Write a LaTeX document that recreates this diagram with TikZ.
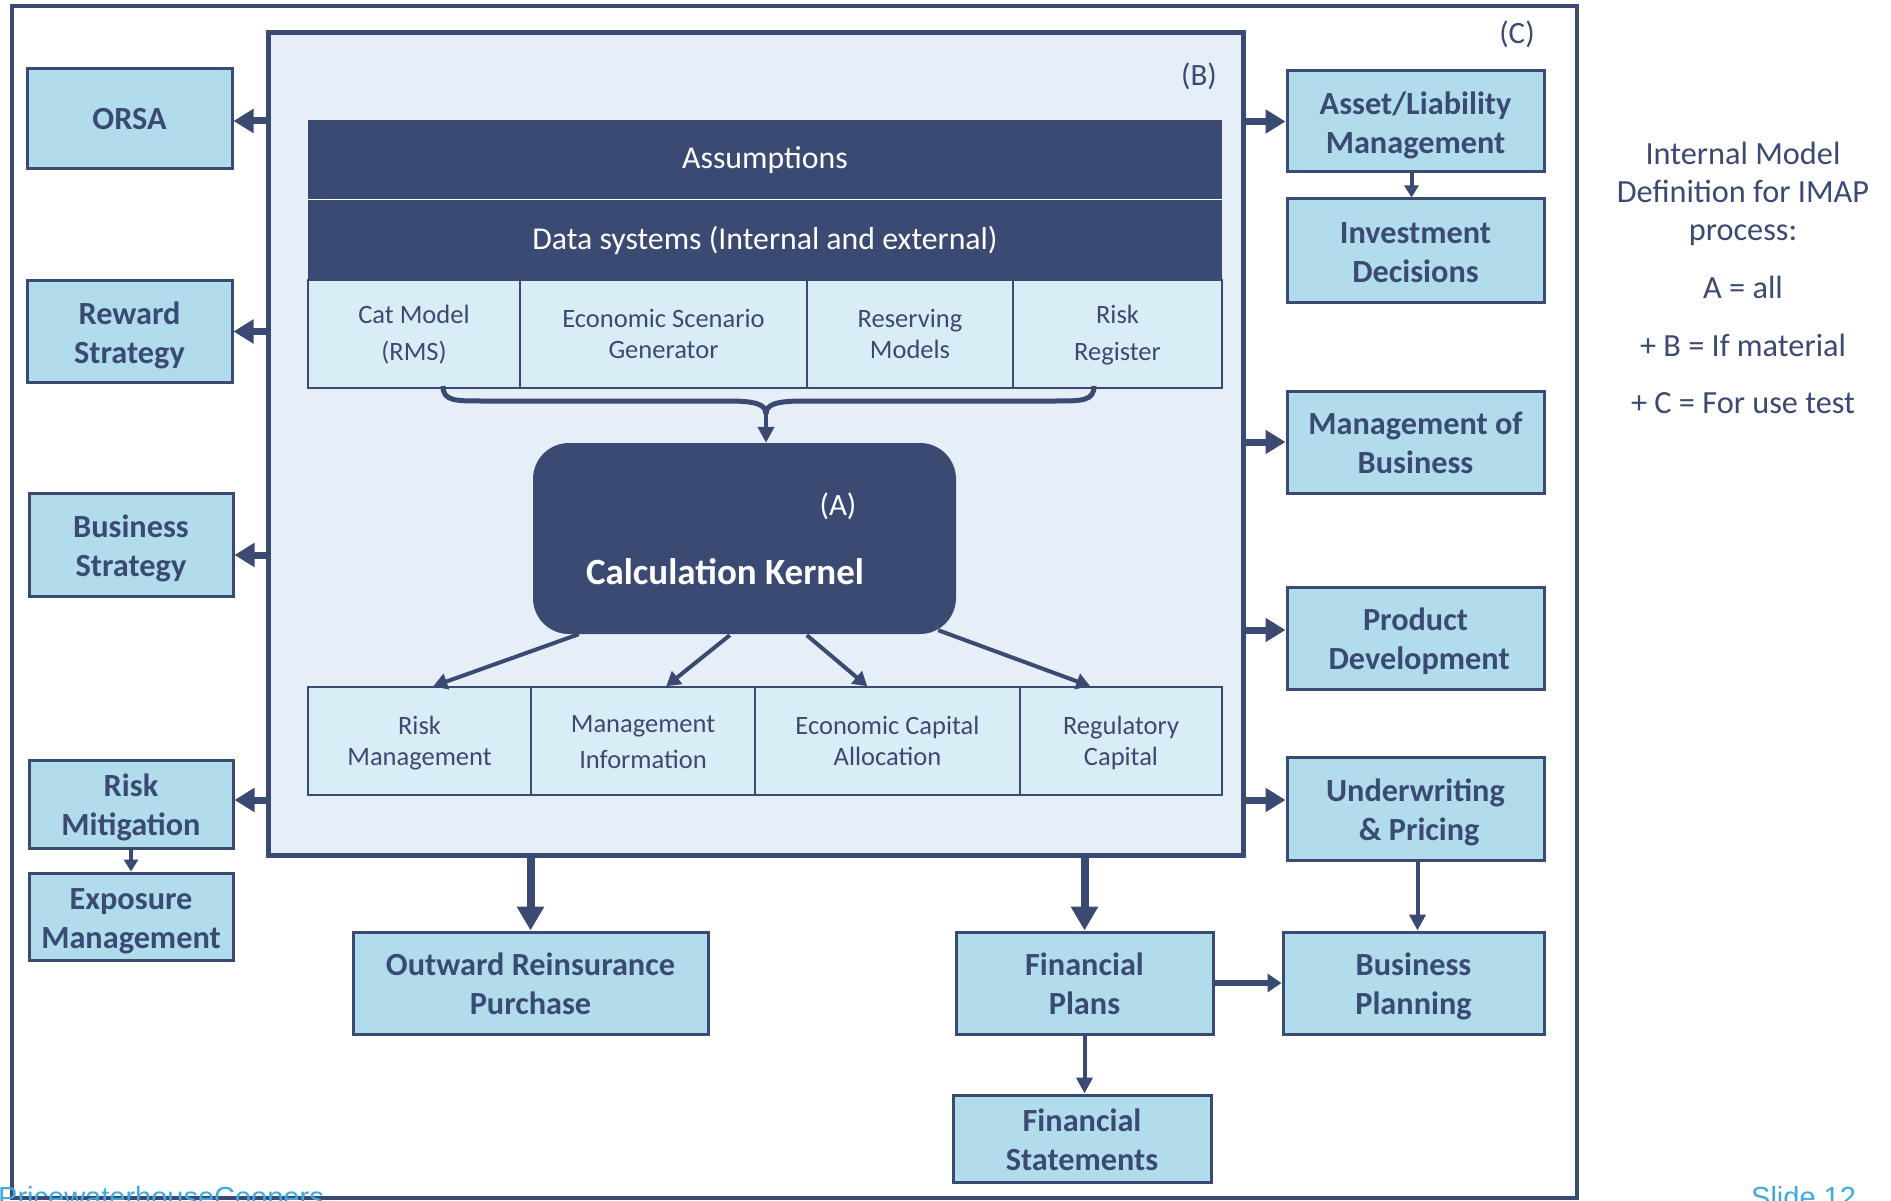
\documentclass[tikz,border=0pt]{standalone}
\usepackage{fontspec}
\setmainfont{Carlito}
\newfontfamily\footfont{Liberation Sans}
\usetikzlibrary{arrows.meta,calc}
\definecolor{navy}{HTML}{3B4A72}
\definecolor{boxblue}{HTML}{B1DCEC}
\definecolor{cellblue}{HTML}{D8EDF6}
\definecolor{innerfill}{HTML}{E6EEF8}
\definecolor{footblue}{HTML}{3FAADF}
% box label: strut-spaced lines, set slightly low in the box
\newcommand\btxt[2][4.5pt]{\raisebox{-#1}[\height][\depth]{\begin{tabular}{@{}c@{}}#2\end{tabular}}}
\begin{document}
\begin{tikzpicture}[x=1pt,y=-1pt,
  sidebox/.style={draw=navy, line width=3, fill=boxblue, text=navy, align=center,
    inner sep=0, font=\bfseries\fontsize{32.3}{38.6}\selectfont},
  cell/.style={draw=navy, line width=1.5, fill=cellblue, text=navy, align=center,
    inner sep=0, minimum height=108, font=\fontsize{26.5}{31}\selectfont},
  bar/.style={fill=navy, text=white, inner sep=0, minimum width=914, font=\fontsize{31.8}{38}\selectfont},
  label/.style={text=navy, inner sep=0, font=\fontsize{31}{37}\selectfont},
  legend/.style={text=navy, inner sep=0, align=center, font=\fontsize{32.3}{38}\selectfont},
  sidearrow/.style={navy, line width=7, -{Triangle[length=20pt,width=23pt]}},
  downarrow/.style={navy, line width=8, -{Triangle[length=24pt,width=26pt]}},
  karrow/.style={navy, line width=4, -{Triangle[length=14pt,width=16pt]}},
  thinarrow/.style={navy, line width=4, -{Triangle[length=12pt,width=14pt]}},
  midarrow/.style={navy, line width=4, -{Triangle[length=16pt,width=16pt]}},
  footer/.style={text=footblue, inner sep=0, anchor=base west, font=\footfont\fontsize{29}{29}\selectfont}
]
\useasboundingbox (0,0) rectangle (1891,1201);
\clip (0,0) rectangle (1891,1201);
\fill[white] (0,0) rectangle (1891,1201);

% outer frame (C)
\node[draw=navy, line width=4, minimum width=1565, minimum height=1192, inner sep=0] (C) at (794.5,602) {};
\node[label] (Clab) at (1517,34) {(C)};

% inner frame (B)
\node[draw=navy, line width=5, fill=innerfill, minimum width=975, minimum height=822, inner sep=0] (B) at (755.5,444) {};
\node[label] (Blab) at (1199,76) {(B)};

% input layers
\node[bar, minimum height=79] (assum) at (765,160) {Assumptions};
\node[bar, minimum height=80] (data) at (765,240) {Data systems (Internal and external)};
\draw[white, line width=1.5] (assum.south west) -- (assum.south east);

% input models
\node[cell, minimum width=212, font=\fontsize{26.5}{37}\selectfont] (cat) at (414,334) {\btxt[1pt]{Cat Model\\(RMS)}};
\node[cell, minimum width=287] (esg) at (663.5,334) {Economic Scenario\\Generator};
\node[cell, minimum width=206] (res) at (910,334) {Reserving\\Models};
\node[cell, minimum width=209, font=\fontsize{26.5}{37}\selectfont] (reg) at (1117.5,334) {\btxt[1pt]{Risk\\Register}};

% calculation kernel (A)
\node[fill=navy, rounded corners=36pt, minimum width=423, minimum height=191, inner sep=0] (kernel) at (744.5,538.5) {};
\node[text=white, inner sep=0, font=\fontsize{31}{37}\selectfont] (Alab) at (838,506) {(A)};
\node[text=white, inner sep=0, font=\bfseries\fontsize{37}{44}\selectfont] (kname) at (725,572) {Calculation Kernel};

% outputs
\node[cell, minimum width=223] (rm) at (419.5,741) {\btxt[2.5pt]{Risk\\Management}};
\node[cell, minimum width=224, font=\fontsize{26.5}{36}\selectfont] (mi) at (643,741) {\btxt[2.5pt]{Management\\Information}};
\node[cell, minimum width=265] (eca) at (887.5,741) {\btxt[2.5pt]{Economic Capital\\Allocation}};
\node[cell, minimum width=202] (rc) at (1121,741) {\btxt[2.5pt]{Regulatory\\Capital}};

% brace gathering the models
\coordinate (bl) at (443,386);
\coordinate (br) at (1094,386);
\coordinate (bm) at (766,414);
\draw[navy, line width=5] (bl) .. controls (443,401) and (455,401) .. (482,401) -- (728,401)
  .. controls (755,401) and (766,404) .. (bm);
\draw[navy, line width=5] (br) .. controls (1094,401) and (1082,401) .. (1055,401) -- (804,401)
  .. controls (777,401) and (766,404) .. (bm);
\draw[midarrow] ([yshift=2pt]bm) -- (bm |- kernel.north);

% kernel to outputs
\draw[karrow] ([xshift=46pt]kernel.south west) -- ([xshift=126pt]rm.north west);
\draw[karrow] ([xshift=197pt,yshift=-1pt]kernel.south west) -- ([xshift=136pt]mi.north west);
\draw[karrow] ([xshift=274pt,yshift=-1pt]kernel.south west) -- ([xshift=113pt]eca.north west);
\draw[karrow] ([xshift=-18pt,yshift=4pt]kernel.south east) -- ([xshift=71pt]rc.north west);

% uses on the left
\node[sidebox, minimum width=205, minimum height=100] (orsa) at (129.5,119) {\btxt[3pt]{ORSA}};
\node[sidebox, minimum width=205, minimum height=101] (reward) at (129.5,331.5) {\btxt{Reward\\Strategy}};
\node[sidebox, minimum width=204, minimum height=103] (bstrat) at (131,544.5) {\btxt{Business\\Strategy}};
\node[sidebox, minimum width=204, minimum height=88] (riskmit) at (131,804) {\btxt{Risk\\Mitigation}};
\node[sidebox, minimum width=204, minimum height=87] (expo) at (131,916.5) {\btxt{Exposure\\Management}};

% uses on the right
\node[sidebox, minimum width=257, minimum height=101] (alm) at (1415.5,121.5) {\btxt{Asset/Liability\\Management}};
\node[sidebox, minimum width=257, minimum height=103] (inv) at (1415.5,250.5) {\btxt{Investment\\Decisions}};
\node[sidebox, minimum width=257, minimum height=102] (mob) at (1415.5,442) {\btxt{Management of\\Business}};
\node[sidebox, minimum width=257, minimum height=102] (prod) at (1415.5,638) {\btxt{Product\\\ Development}};
\node[sidebox, minimum width=257, minimum height=103] (uw) at (1415.5,808.5) {\btxt{Underwriting\\\ \& Pricing}};
\node[sidebox, minimum width=261, minimum height=102] (bplan) at (1413.5,983) {\btxt{Business\\Planning}};

% uses below
\node[sidebox, minimum width=355, minimum height=102] (orp) at (530.5,983) {\btxt{Outward Reinsurance\\Purchase}};
\node[sidebox, minimum width=257, minimum height=102] (fplan) at (1084.5,983) {\btxt{Financial\\Plans}};
\node[sidebox, minimum width=258, minimum height=87] (fstat) at (1082,1138.5) {\btxt{Financial\\Statements}};

% connectors from the model frame
\draw[sidearrow] ([xshift=1pt]B.west |- 0,121) -- (orsa.east |- 0,121);
\draw[sidearrow] ([xshift=1pt]B.west |- reward.east) -- (reward.east);
\draw[sidearrow] ([xshift=1pt]B.west |- 0,555) -- (bstrat.east |- 0,555);
\draw[sidearrow] ([xshift=1pt]B.west |- 0,800) -- (riskmit.east |- 0,800);
\draw[sidearrow] ([xshift=-1pt]B.east |- alm.west) -- (alm.west);
\draw[sidearrow] ([xshift=-1pt]B.east |- mob.west) -- (mob.west);
\draw[sidearrow] ([xshift=-1pt]B.east |- 0,630) -- (prod.west |- 0,630);
\draw[sidearrow] ([xshift=-1pt]B.east |- 0,800) -- (uw.west |- 0,800);
\draw[downarrow] ([yshift=1pt]B.south -| orp.north) -- (orp.north);
\draw[downarrow] ([yshift=1pt]B.south -| fplan.north) -- (fplan.north);

% connectors between uses
\draw[thinarrow] (riskmit.south) -- (expo.north);
\draw[thinarrow] ([xshift=-4pt]alm.south) -- ([xshift=-4pt]inv.north);
\draw[midarrow] ([xshift=2pt]uw.south) -- ([xshift=2pt]uw.south |- bplan.north);
\draw[midarrow] (fplan.south) -- (fplan.south |- fstat.north);
\draw[navy, line width=6, -{Triangle[length=14pt,width=18pt]}] (fplan.east) -- (bplan.west);

% legend
\node[legend] (leg1) at (1743,193.5) {Internal Model\\Definition for IMAP\\process:};
\node[legend] (leg2) at (1743,287) {A = all};
\node[legend] (leg3) at (1743,345) {+ B = If material};
\node[legend] (leg4) at (1743,403) {+ C = For use test};

% footer
\node[footer] (firm) at (-2,1207) {PricewaterhouseCoopers};
\node[footer] (slide) at (1751,1207) {Slide 12};
\end{tikzpicture}
\end{document}
